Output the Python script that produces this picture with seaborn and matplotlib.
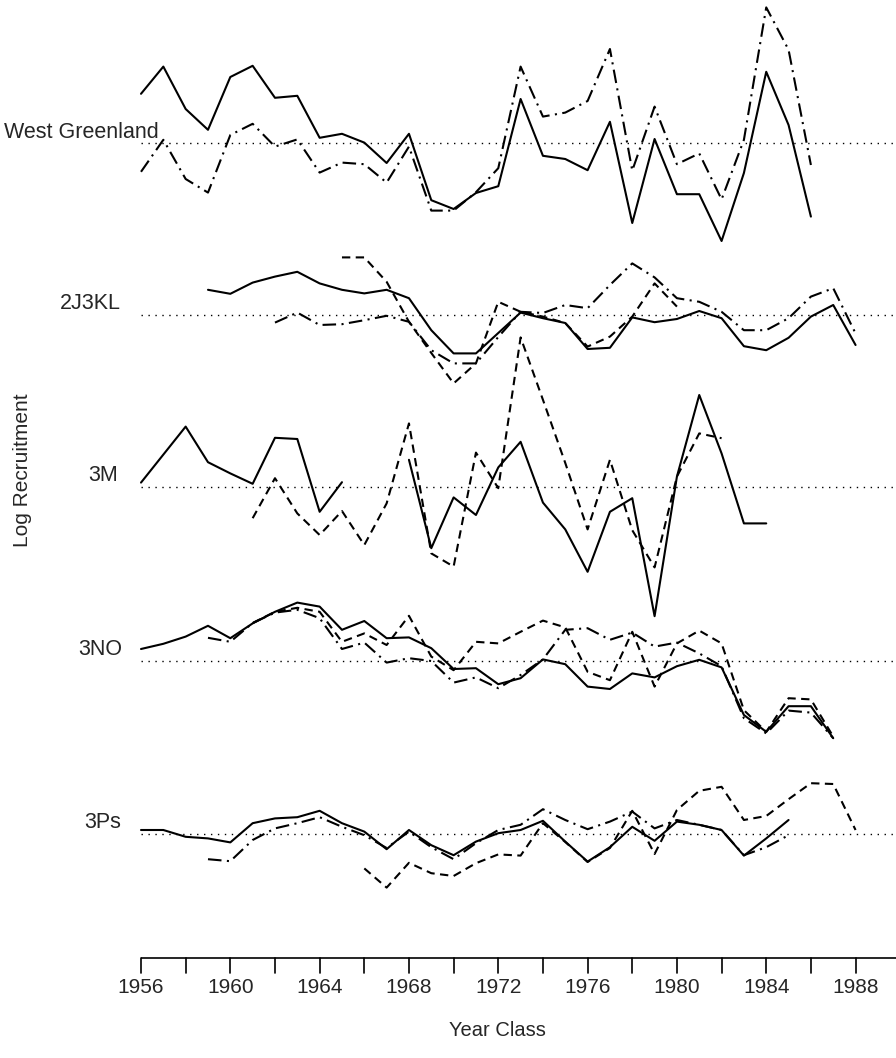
import numpy as np
import pandas as pd
import matplotlib
matplotlib.use("Agg")
import matplotlib.pyplot as plt
import seaborn as sns

sns.set_theme(style="white")
plt.rcParams['font.family'] = ['Liberation Sans', 'DejaVu Sans']

# ---------------- data: log recruitment anomalies by stock ----------------
panels = ["West Greenland", "2J3KL", "3M", "3NO", "3Ps"]

wg_solid_years = list(range(1956, 1987))
wg_solid = [1.23, 1.91, 0.85, 0.33, 1.65, 1.93, 1.13, 1.18, 0.13, 0.23, 0.01, -0.50,
            0.23, -1.43, -1.65, -1.25, -1.08, 1.10, -0.32, -0.40, -0.68, 0.53, -2.00,
            0.10, -1.28, -1.28, -2.45, -0.75, 1.78, 0.45, -1.84]
wg_dashdot_years = list(range(1956, 1987))
wg_dashdot = [-0.72, 0.08, -0.90, -1.24, 0.20, 0.48, -0.09, 0.09, -0.74, -0.49, -0.53,
              -0.99, -0.09, -1.69, -1.69, -1.23, -0.63, 1.91, 0.66, 0.76, 1.05, 2.35,
              -0.69, 0.91, -0.53, -0.26, -1.41, 0.08, 3.39, 2.33, -0.55]

kl_solid_years = list(range(1959, 1989))
kl_solid = [0.63, 0.53, 0.81, 0.96, 1.08, 0.79, 0.63, 0.54, 0.63, 0.42, -0.38, -0.96,
            -0.96, -0.45, 0.06, -0.08, -0.20, -0.85, -0.82, -0.06, -0.18, -0.10, 0.10,
            -0.08, -0.78, -0.88, -0.57, -0.04, 0.25, -0.75]
kl_dashdot_years = list(range(1962, 1989))
kl_dashdot = [-0.19, 0.06, -0.25, -0.23, -0.13, -0.02, -0.17, -0.88, -1.21, -1.21,
              -0.55, 0.08, 0.05, 0.25, 0.17, 0.75, 1.29, 0.94, 0.42, 0.33, 0.08, -0.38,
              -0.38, -0.08, 0.46, 0.67, -0.46]
kl_dashed_years = list(range(1965, 1981))
kl_dashed = [1.44, 1.44, 0.83, -0.17, -0.95, -1.71, -1.21, 0.33, 0.08, -0.04, -0.20,
             -0.79, -0.54, -0.04, 0.79, 0.21]

m_solid_a_years = [1956, 1958, 1959, 1960, 1961, 1962, 1963, 1964, 1965]
m_solid_a = [0.11, 1.51, 0.62, 0.34, 0.08, 1.23, 1.20, -0.62, 0.12]
m_solid_b_years = list(range(1968, 1985))
m_solid_b = [0.68, -1.53, -0.26, -0.70, 0.49, 1.13, -0.39, -1.06, -2.12, -0.62, -0.28,
             -3.23, 0.26, 2.30, 0.84, -0.91, -0.91]
m_dashed_years = list(range(1961, 1983))
m_dashed = [-0.78, 0.22, -0.66, -1.20, -0.60, -1.45, -0.41, 1.59, -1.66, -1.99, 0.86,
            -0.03, 3.74, 2.18, 0.60, -1.06, 0.68, -1.08, -2.01, 0.26, 1.34, 1.22]

no_solid_years = list(range(1956, 1988))
no_solid = [0.30, 0.43, 0.61, 0.88, 0.57, 0.94, 1.23, 1.46, 1.36, 0.78, 1.00, 0.57,
            0.59, 0.32, -0.20, -0.18, -0.58, -0.43, 0.04, -0.08, -0.64, -0.70, -0.31,
            -0.41, -0.13, 0.03, -0.16, -1.35, -1.77, -1.13, -1.13, -1.93]
no_dashdot_years = list(range(1959, 1988))
no_dashdot = [0.58, 0.48, 0.95, 1.21, 1.28, 1.07, 0.30, 0.46, -0.04, 0.07, 0.00, -0.54,
              -0.41, -0.68, -0.35, 0.04, 0.78, 0.82, 0.53, 0.71, 0.36, 0.46, 0.19,
              -0.13, -1.43, -1.81, -1.24, -1.29, -1.93]
no_dashed_years = list(range(1961, 1988))
no_dashed = [0.95, 1.23, 1.33, 1.23, 0.48, 0.69, 0.40, 1.13, 0.11, -0.23, 0.48, 0.44,
             0.73, 1.01, 0.84, -0.27, -0.48, 0.73, -0.64, 0.44, 0.76, 0.44, -1.23,
             -1.77, -0.93, -0.96, -1.89]

ps_solid_years = list(range(1956, 1986))
ps_solid = [0.10, 0.10, -0.07, -0.11, -0.21, 0.27, 0.39, 0.42, 0.58, 0.27, 0.06, -0.38,
            0.10, -0.28, -0.53, -0.19, 0.02, 0.10, 0.33, -0.19, -0.69, -0.33, 0.18,
            -0.17, 0.31, 0.23, 0.10, -0.54, -0.11, 0.35]
ps_dashdot_years = list(range(1959, 1986))
ps_dashdot = [-0.63, -0.68, -0.15, 0.14, 0.27, 0.42, 0.18, -0.03, -0.35, 0.06, -0.33,
              -0.63, -0.23, 0.10, 0.23, 0.62, 0.35, 0.12, 0.31, 0.56, 0.14, 0.35, 0.23,
              0.10, -0.53, -0.33, -0.03]
ps_dashed_years = list(range(1966, 1989))
ps_dashed = [-0.86, -1.34, -0.72, -0.98, -1.05, -0.73, -0.51, -0.54, 0.27, -0.20, -0.70,
             -0.35, 0.58, -0.50, 0.60, 1.08, 1.18, 0.35, 0.45, 0.87, 1.27, 1.25, 0.10]

tick_years = list(range(1956, 1991, 2))
tick_labels = [str(y) if (y - 1956) % 4 == 0 else "" for y in tick_years]

# ---------------- layout ----------------
W, H = 896, 1058
S = 40.0  # pixels per log unit
panel_base_px = {"West Greenland": 143, "2J3KL": 315, "3M": 487, "3NO": 661, "3Ps": 834}
offset = {p: -panel_base_px[p] / S for p in panels}

series = [
    ("West Greenland", "solid", wg_solid_years, wg_solid),
    ("West Greenland", "dashdot", wg_dashdot_years, wg_dashdot),
    ("2J3KL", "solid", kl_solid_years, kl_solid),
    ("2J3KL", "dashdot", kl_dashdot_years, kl_dashdot),
    ("2J3KL", "dashed", kl_dashed_years, kl_dashed),
    ("3M", "solid", m_solid_a_years, m_solid_a),
    ("3M", "solid", m_solid_b_years, m_solid_b),
    ("3M", "dashed", m_dashed_years, m_dashed),
    ("3NO", "solid", no_solid_years, no_solid),
    ("3NO", "dashdot", no_dashdot_years, no_dashdot),
    ("3NO", "dashed", no_dashed_years, no_dashed),
    ("3Ps", "solid", ps_solid_years, ps_solid),
    ("3Ps", "dashdot", ps_dashdot_years, ps_dashdot),
    ("3Ps", "dashed", ps_dashed_years, ps_dashed),
]
styles = {"solid": "-", "dashed": (0, (4.0, 2.6)), "dashdot": (0, (6.5, 2.6, 1.0, 2.6))}

fig = plt.figure(figsize=(W / 100, H / 100), dpi=100)
ax = fig.add_axes([0, 0, 1, 1])
px_per_year = 22.33
x0 = 1956 - 141 / px_per_year
x1 = 1956 + (W - 141) / px_per_year
ax.set_xlim(x0, x1)
ax.set_ylim(-H / S, 0)

for p in panels:
    ax.plot([1956, x1], [offset[p], offset[p]], color="black", lw=1.0,
            linestyle=(0, (1, 4)))

for p, st, yrs, vals in series:
    df = pd.DataFrame({"year": yrs, "y": np.array(vals) + offset[p]})
    sns.lineplot(data=df, x="year", y="y", ax=ax, color="black", lw=1.5,
                 linestyle=styles[st], estimator=None, sort=True, legend=False)

# panel labels
ax.text(x0 + 4 / px_per_year, offset["West Greenland"] + 5 / S, "West Greenland",
        fontsize=15.5, ha="left", va="baseline")
for p, xr in [("2J3KL", 121), ("3M", 118), ("3NO", 122), ("3Ps", 121)]:
    ax.text(x0 + xr / px_per_year, offset[p] + 6 / S, p, fontsize=15.5, ha="right",
            va="baseline")

# x axis drawn as a line with ticks
axis_y = -958 / S
ax.plot([1956, x1], [axis_y, axis_y], color="black", lw=1.2, solid_capstyle="butt")
tick_len = 15 / S
for ty, tl in zip(tick_years, tick_labels):
    ax.plot([ty, ty], [axis_y, axis_y - tick_len], color="black", lw=1.2)
    if tl:
        ax.text(ty, -978 / S, tl, fontsize=15, ha="center", va="top")

ax.text(x0 + 497 / px_per_year, -1030 / S, "Year Class", fontsize=14.5, ha="center",
        va="center")
ax.text(x0 + 22 / px_per_year, -470 / S, "Log Recruitment", fontsize=15, ha="center",
        va="center", rotation=90)

ax.set_axis_off()
fig.savefig("out.png", dpi=100)
